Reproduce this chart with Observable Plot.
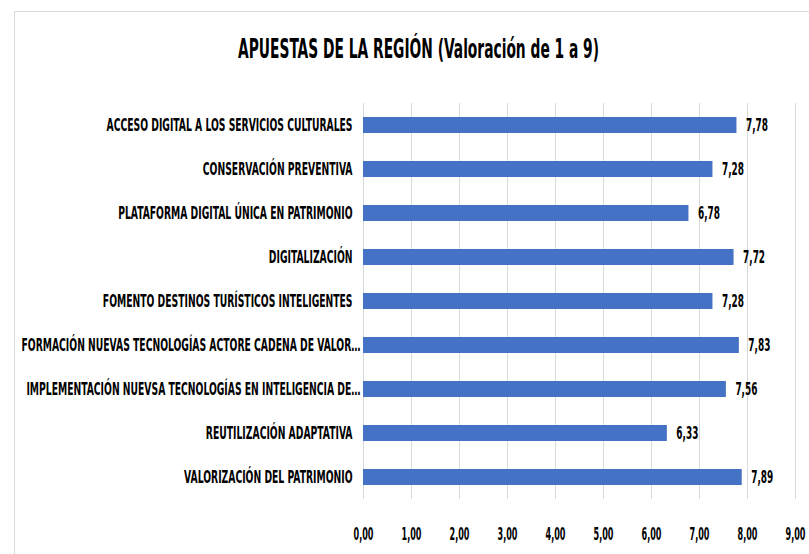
<!DOCTYPE html>
<html>
<head>
<meta charset="utf-8">
<script src="https://cdn.jsdelivr.net/npm/d3@7"></script>
<script src="https://cdn.jsdelivr.net/npm/@observablehq/plot@0.6"></script>
<style>
  html, body { margin: 0; padding: 0; background: #fff; }
  #wrap { position: relative; width: 809px; height: 554px; overflow: hidden; }
  #frame { position: absolute; left: 14px; top: 11px; width: 820px; height: 560px; border: 1px solid #d9d9d9; box-sizing: border-box; pointer-events: none; }
  #title { position: absolute; left: 0; top: 0; height: 90px; width: 809px; }
  #title span { position: absolute; left: 238px; top: 33px; white-space: nowrap; transform-origin: 0 0;
           font-family: "DejaVu Sans Condensed", "DejaVu Sans", sans-serif; font-weight: bold;
           font-size: 27px; line-height: 32px; color: #000; }
  #chart { position: absolute; left: 0; top: 90px; }
  #chart svg { display: block; }
</style>
</head>
<body>
<div id="wrap">
  <div id="frame"></div>
  <div id="title"><span>APUESTAS DE LA REGIÓN (Valoración de 1 a 9)</span></div>
  <div id="chart"></div>
</div>
<script>
const categories = [
  "ACCESO DIGITAL A LOS SERVICIOS CULTURALES",
  "CONSERVACIÓN PREVENTIVA",
  "PLATAFORMA DIGITAL ÚNICA EN PATRIMONIO",
  "DIGITALIZACIÓN",
  "FOMENTO DESTINOS TURÍSTICOS INTELIGENTES",
  "FORMACIÓN NUEVAS TECNOLOGÍAS ACTORE CADENA DE VALOR…",
  "IMPLEMENTACIÓN NUEVSA TECNOLOGÍAS EN INTELIGENCIA DE…",
  "REUTILIZACIÓN ADAPTATIVA",
  "VALORIZACIÓN DEL PATRIMONIO"
];
const values = [7.78, 7.28, 6.78, 7.72, 7.28, 7.83, 7.56, 6.33, 7.89];
const xTicks = [0, 1, 2, 3, 4, 5, 6, 7, 8, 9];

const data = categories.map((c, i) => ({category: c, value: values[i]}));
const fmt = d => d.toFixed(2).replace(".", ",");
const FONT = "'DejaVu Sans Condensed', 'DejaVu Sans', sans-serif";

const chart = Plot.plot({
  width: 809,
  height: 464,
  marginTop: 13,
  marginBottom: 55,
  marginLeft: 363,
  marginRight: 14,
  style: {fontFamily: FONT, fontWeight: "bold", fontSize: "15px", color: "#000", background: "transparent", overflow: "visible"},
  x: {domain: [0, 9], ticks: xTicks},
  y: {domain: categories, padding: 0.64, paddingOuter: 0.32},
  marks: [
    Plot.gridX(xTicks, {stroke: "#d9d9d9", strokeOpacity: 1, strokeWidth: 1}),
    Plot.barX(data, {x: "value", y: "category", fill: "#4472C4"}),
    Plot.text(data, {x: "value", y: "category", text: d => fmt(d.value), textAnchor: "start", dx: 9, fontSize: 17, fontWeight: "bold", fill: "#000"}),
    Plot.axisX({ticks: xTicks, tickFormat: fmt, tickSize: 0, tickPadding: 28, fontSize: 18, fontWeight: "bold", fill: "#000", label: null}),
    Plot.axisY({tickSize: 0, tickPadding: 11, fontSize: 18, fontWeight: "bold", fill: "#000", label: null})
  ]
});
document.getElementById("chart").appendChild(chart);

// Squeeze texts horizontally to mimic the narrow bold face of the original
function squeeze(nodes, refText, refWidth) {
  nodes = Array.from(nodes);
  const ref = nodes.find(n => n.textContent === refText) || nodes[0];
  const k = refWidth / ref.getComputedTextLength();
  nodes.forEach(n => {
    const w = n.getComputedTextLength();
    n.setAttribute("textLength", (w * k).toFixed(2));
    n.setAttribute("lengthAdjust", "spacingAndGlyphs");
  });
}
squeeze(chart.querySelectorAll('[aria-label="y-axis tick label"] text'), categories[0], 246);
squeeze(chart.querySelectorAll('[aria-label="x-axis tick label"] text'), "0,00", 20);
squeeze(chart.querySelectorAll('[aria-label="text"] text'), "7,78", 22);
chart.querySelectorAll('[aria-label="y-axis tick label"] text').forEach(n => {
  if (n.textContent.endsWith("…")) n.setAttribute("dx", "8");
});

const span = document.querySelector("#title span");
span.style.transform = `scaleX(${361 / span.getBoundingClientRect().width})`;
</script>
</body>
</html>
